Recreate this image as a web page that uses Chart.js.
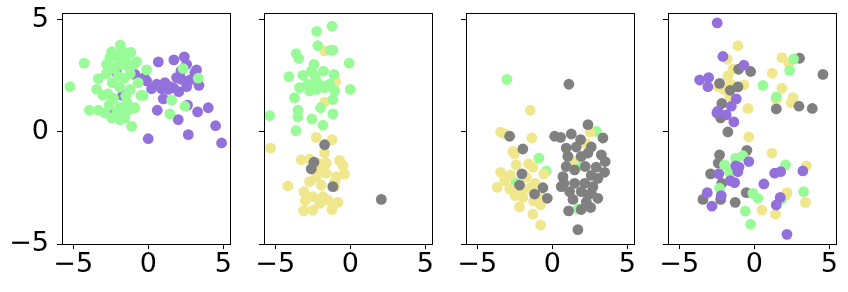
<!DOCTYPE html>
<html>
<head>
<meta charset="utf-8">
<script src="https://cdn.jsdelivr.net/npm/chart.js@4"></script>
<style>
html,body{margin:0;padding:0;background:#fff;width:848px;height:292px;overflow:hidden;}
canvas{position:absolute;left:0;top:0;}
</style>
</head>
<body>
<canvas id="c0" width="848" height="292"></canvas>
<canvas id="c1" width="848" height="292"></canvas>
<canvas id="c2" width="848" height="292"></canvas>
<canvas id="c3" width="848" height="292"></canvas>
<script>
// ---- tick values ----
const xTicks = [-5, 0, 5];
const yTicks = [-5, 0, 5];

// ---- Panel 1 ----
const p1Green = [[-5.22,2.02],[-4.27,3.07],[-1.87,3.88],[-2.44,3.58],[-1.16,3.55],[-2.56,3.32],[-0.78,3.14],[-2.78,3.02],
 [-3.33,2.38],[-3.44,1.90],[-3.0,1.63],[-3.93,0.97],[-3.33,0.97],[-2.89,0.85],[-2.44,0.63],[-1.89,0.55],[-1.11,0.25],
 [-1.56,0.63],[-0.89,1.08],[-0.49,1.63],[-0.33,1.63],[-0.11,2.77],[-0.67,2.20],[1.56,1.42],[1.44,0.81],[2.44,1.15],
 [3.33,2.40],[2.33,2.83],[-2.2,2.9],[-1.8,3.0],[-1.5,3.2],[-2.0,2.5],[-1.6,2.4],[-2.4,2.2],[-1.2,2.6],[-1.9,2.0],
 [-2.3,1.5],[-1.5,1.6],[-2.6,1.2],[-1.9,1.1],[-1.4,1.3],[-2.1,0.9],[-1.2,1.9],[-2.8,2.6],[-2.5,2.8],[-1.3,2.9],
 [-1.0,3.0],[-2.1,3.4],[-1.7,3.6],[-2.7,1.7],[-1.7,0.8],[-1.3,1.0]];
const p1Purple = [[0.67,3.13],[1.71,3.22],[2.4,3.35],[2.56,3.02],[2.18,2.72],[3.22,2.77],[3.11,2.65],[1.89,2.43],
 [2.22,2.35],[2.78,2.32],[3.38,2.08],[2.56,2.02],[2.04,1.80],[1.11,2.20],[1.44,2.02],[0.89,1.93],[1.0,1.48],[0.22,1.93],
 [-0.11,2.28],[-0.27,2.43],[-0.89,2.57],[-2.11,2.65],[-1.71,1.63],[-2.33,0.78],[0.6,0.97],[2.62,1.20],[3.29,0.90],
 [4.0,1.08],[2.0,0.55],[2.67,-0.12],[0.0,-0.30],[4.49,0.28],[4.89,-0.49],[1.33,1.90],[1.67,1.98],[0.56,2.13]];

// ---- Panel 2 ----
const p2Green = [[-1.22,4.72],[-2.24,4.49],[-2.16,3.85],[-1.31,3.65],[-1.16,3.65],[-3.6,3.50],[-3.44,3.28],[-0.07,3.07],
 [-2.42,3.02],[-2.6,2.72],[-1.78,2.72],[-3.16,2.53],[-4.09,2.47],[-1.09,2.57],[-2.33,2.50],[-2.27,2.28],[-3.38,1.98],
 [-2.71,1.83],[-2.27,1.90],[-1.71,1.98],[-1.04,1.83],[0.0,1.90],[-3.71,1.53],[-1.16,1.45],[-1.98,1.08],[-3.49,0.97],
 [-3.49,0.67],[-1.16,0.81],[-2.56,0.58],[-5.38,0.73],[-1.82,0.30],[-3.62,0.06],[-2.82,2.13],[-1.93,2.08],[-1.38,2.13]];
const p2Khaki = [[-1.71,3.62],[-0.98,2.23],[-1.71,1.33],[-5.31,-0.72],[-2.27,-0.24],[-1.22,-0.34],[-1.71,-0.94],
 [-3.27,-1.24],[-2.71,-1.21],[-0.71,-1.27],[-0.49,-1.50],[-1.6,-1.39],[-2.04,-1.62],[-0.38,-1.87],[-0.93,-1.99],
 [-1.04,-2.22],[-2.71,-2.22],[-1.93,-2.37],[-2.27,-1.99],[-4.16,-2.41],[-3.09,-2.66],[-2.49,-2.89],[-1.82,-2.89],
 [-3.0,-3.07],[-1.49,-3.04],[-0.82,-3.14],[-3.11,-3.52],[-2.49,-3.49],[-1.22,-3.46],[-2.04,-3.19],[-1.04,-2.44],
 [-1.6,-1.84],[-2.16,-1.39]];
const p2Gray = [[-1.71,-0.57],[-2.42,-1.35],[-2.6,-1.65],[2.07,-3.01],[-1.16,-2.44]];

// ---- Panel 3 ----
const p3Green = [[-3.02,2.35],[2.93,0.03],[-0.89,-1.17],[-0.4,-1.74],[-2.44,-2.26],[1.71,-3.44],[1.93,-1.51]];
const p3Khaki = [[-1.47,0.97],[-3.44,-0.01],[-3.18,-0.07],[-1.36,-0.27],[-2.62,-0.87],[-2.51,-0.97],[-2.4,-1.47],
 [-1.58,-1.42],[-1.29,-1.57],[-3.44,-1.80],[-2.78,-1.92],[-0.56,-1.87],[-3.18,-2.17],[-3.67,-2.47],[-2.84,-2.54],
 [-1.73,-2.02],[-1.13,-2.29],[-2.47,-2.84],[-1.96,-2.92],[-2.18,-3.34],[-1.24,-3.08],[-0.78,-3.26],[-1.29,-3.67],
 [-0.78,-4.16],[1.31,-1.27],[2.53,-0.01],[2.27,-0.52],[-2.07,-2.66],[-1.51,-2.51],[-0.73,-2.89]];
const p3Gray = [[1.11,2.13],[-2.84,-0.19],[-1.96,-0.76],[-2.02,-1.87],[-2.18,-2.37],[-1.18,-2.77],[-0.62,-2.49],
 [-0.33,-2.96],[0.16,-0.19],[0.56,-0.24],[1.27,-0.09],[2.38,0.33],[3.38,-0.27],[1.89,-0.34],[0.93,-0.72],[1.6,-0.67],
 [2.6,-0.67],[3.27,-1.02],[3.53,-1.32],[1.04,-1.09],[1.93,-1.09],[2.2,-1.54],[2.93,-1.57],[3.49,-1.80],[1.49,-1.69],
 [0.71,-1.99],[2.6,-1.94],[3.04,-2.07],[0.78,-2.29],[1.49,-2.29],[2.16,-2.29],[2.71,-2.44],[1.16,-2.66],[1.93,-2.66],
 [3.04,-2.96],[2.38,-2.81],[1.09,-3.52],[1.93,-3.46],[2.56,-3.37],[1.71,-4.36],[1.38,-3.01],[2.6,-2.72],[0.93,-1.54],
 [2.38,-0.94],[0.6,-2.44],[2.27,-3.13]];

// ---- Panel 4 ----
const p4Purple = [[-2.47,4.87],[-2.09,3.37],[-0.69,2.98],[-3.64,2.32],[-3.04,2.43],[-3.09,2.02],[-1.2,1.48],[-1.53,1.15],
 [-2.49,0.85],[-1.87,0.76],[-1.36,0.45],[-2.42,0.93],[-1.24,-1.51],[-0.36,-1.32],[-1.09,-1.77],[-2.36,-1.87],
 [-1.6,-2.17],[-1.31,-2.26],[-3.13,-2.71],[-2.2,-2.84],[-2.82,-3.31],[0.64,-2.32],[1.36,-1.84],[1.76,-1.77],
 [3.24,-1.74],[1.73,-2.92],[1.47,-3.26],[2.18,-4.57],[-1.02,-1.57]];
const p4Khaki = [[-1.09,3.85],[-1.8,3.25],[-1.42,2.80],[-1.76,2.50],[-2.42,2.02],[-1.58,2.13],[-2.02,1.90],[-1.64,1.60],
 [-0.69,2.10],[-0.42,1.05],[1.2,2.62],[1.84,3.32],[2.31,3.07],[1.84,1.95],[2.58,1.53],[2.47,1.30],[1.47,1.45],
 [-0.36,-0.22],[1.18,-0.94],[3.47,-1.51],[2.18,-2.71],[2.13,-2.81],[0.51,-3.49],[1.42,-3.67],[3.42,-3.14]];
const p4Gray = [[-1.04,2.80],[-0.24,2.70],[3.02,3.29],[4.58,2.57],[-2.31,2.17],[-1.6,1.86],[-2.16,1.27],[1.47,1.03],
 [2.98,1.15],[3.87,1.05],[-2.24,0.63],[-1.76,0.0],[-0.49,-0.82],[-2.31,-1.02],[-2.4,-1.39],[-2.91,-1.87],[-2.16,-2.29],
 [-0.53,-2.71],[-3.42,-3.01],[-2.24,-3.01],[-1.27,-3.14],[-1.09,2.01]];
const p4Green = [[2.62,3.25],[2.36,2.75],[0.58,2.08],[1.47,1.57],[-1.24,-1.17],[-0.76,-1.06],[-1.98,-1.47],[-1.64,-1.81],
 [2.09,-1.47],[-2.31,-2.51],[-0.09,-2.74],[0.24,-2.96],[1.8,-3.01],[3.29,-2.66],[-0.6,-3.53],[-0.24,-4.12]];

// ---- styles ----
const COLORS = {green:'#98FB98', purple:'#9370DB', khaki:'#F0E68C', gray:'#808080'};
const X_MIN = -5.75, X_MAX = 5.45, Y_MIN = -5, Y_MAX = 5.31;
const PANEL_LEFT = [62, 264, 466, 668];
const PANEL_W = 168, TOP = 13, BOTTOM = 244, W = 848, H = 292;
const FONT = {family:'"DejaVu Sans", sans-serif', size:27};

function fmt(v){ return v < 0 ? '\u2212' + Math.abs(v) : String(v); }

const boxPlugin = {
  id:'box',
  afterDraw(chart){
    const a = chart.chartArea, ctx = chart.ctx;
    ctx.save();
    ctx.strokeStyle = '#000';
    ctx.lineWidth = 1;
    ctx.strokeRect(Math.round(a.left)+0.5, Math.round(a.top)+0.5, Math.round(a.right-a.left), Math.round(a.bottom-a.top));
    ctx.restore();
  }
};

function toPts(arr){ return arr.map(p => ({x:p[0], y:p[1]})); }

function makeChart(id, idx, series, showY){
  const left = PANEL_LEFT[idx];
  const right = left + PANEL_W;
  new Chart(document.getElementById(id), {
    type:'scatter',
    data:{ datasets: series.map(s => ({
      data: toPts(s.data), backgroundColor: COLORS[s.color], borderWidth:0, pointRadius:5.4, pointHoverRadius:5.4
    }))},
    options:{
      responsive:false, animation:false, devicePixelRatio:1,
      events:[],
      layout:{padding:{left:0, right:W-right, top:TOP, bottom:0}},
      plugins:{legend:{display:false}, tooltip:{enabled:false}},
      scales:{
        x:{
          type:'linear', min:X_MIN, max:X_MAX,
          afterBuildTicks(s){ s.ticks = xTicks.map(v => ({value:v})); },
          afterFit(s){ s.height = H - BOTTOM; s.paddingLeft = 0; s.paddingRight = 0; },
          grid:{display:true, drawOnChartArea:false, drawTicks:true, tickLength:5, tickColor:'#000', lineWidth:1},
          border:{display:false},
          ticks:{color:'#000', font:FONT, padding:0, maxRotation:0, autoSkip:false, callback:(v)=>fmt(v)}
        },
        y:{
          type:'linear', min:Y_MIN, max:Y_MAX,
          afterBuildTicks(s){ s.ticks = yTicks.map(v => ({value:v})); },
          afterFit(s){ s.width = left; s.paddingTop = 0; s.paddingBottom = 0; },
          grid:{display:true, drawOnChartArea:false, drawTicks:true, tickLength:5, tickColor:'#000', lineWidth:1},
          border:{display:false},
          ticks:{color:'#000', font:FONT, padding:8, autoSkip:false, callback:(v)=> showY ? fmt(v) : ''}
        }
      }
    },
    plugins:[boxPlugin]
  });
}

// datasets listed top-most first
makeChart('c0', 0, [{data:p1Green, color:'green'}, {data:p1Purple, color:'purple'}], true);
makeChart('c1', 1, [{data:p2Gray, color:'gray'}, {data:p2Green, color:'green'}, {data:p2Khaki, color:'khaki'}], false);
makeChart('c2', 2, [{data:p3Gray, color:'gray'}, {data:p3Khaki, color:'khaki'}, {data:p3Green, color:'green'}], false);
makeChart('c3', 3, [{data:p4Purple, color:'purple'}, {data:p4Green, color:'green'}, {data:p4Gray, color:'gray'}, {data:p4Khaki, color:'khaki'}], false);
</script>
</body>
</html>
